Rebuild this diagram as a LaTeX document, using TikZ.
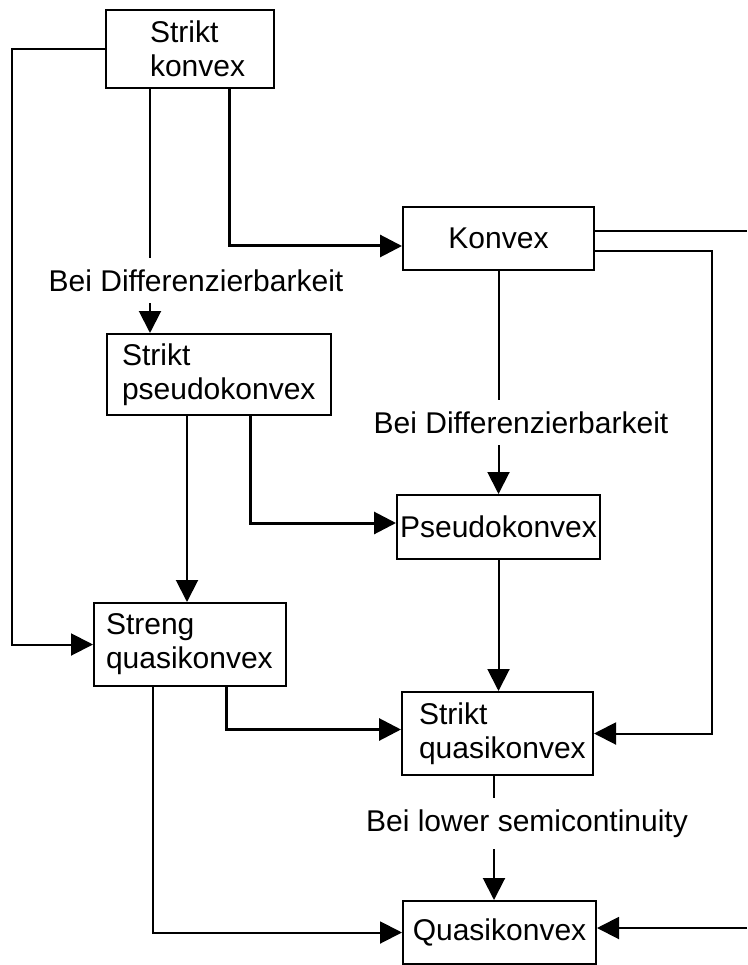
\documentclass[tikz,border=0pt]{standalone}
\usepackage{fontspec}
\setmainfont{Liberation Sans}
\usetikzlibrary{arrows.meta}
\begin{document}
\begin{tikzpicture}[x=1pt,y=-1pt,
  box/.style={draw=black, line width=2pt, inner ysep=0pt, font=\fontsize{30}{34}\selectfont},
  cond/.style={inner sep=0pt, font=\fontsize{30}{34}\selectfont},
  link/.style={line width=2pt},
  strong/.style={line width=3pt},
  tip/.style={-{Triangle[length=22pt,width=22pt]}},
]
\useasboundingbox (0,0) rectangle (747,965);

% property boxes
\node[box, minimum height=78pt, inner xsep=44pt, text width=80pt, align=left] (sk) at (190,49) {Strikt\\konvex};
\node[box, minimum width=191pt, minimum height=63pt] (kv) at (498.5,238.5) {Konvex};
\node[box, minimum height=81pt, inner xsep=15pt, text width=194pt, align=left] (sp) at (219,374.5) {Strikt\\pseudokonvex};
\node[box, minimum width=203pt, minimum height=64pt, inner xsep=0pt] (ps) at (498.5,527) {Pseudokonvex};
\node[box, minimum height=83pt, inner xsep=12pt, text width=168pt, align=left] (sq) at (190,644.5) {Streng\\quasikonvex};
\node[box, minimum height=83pt, inner xsep=17pt, text width=157pt, align=left] (stq) at (497.5,733.5) {Strikt\\quasikonvex};
\node[box, minimum width=193pt, minimum height=63pt] (qk) at (499.5,932.5) {Quasikonvex};

% conditions
\node[cond, minimum height=45pt] (l1) at (196,280.5) {Bei Differenzierbarkeit};
\node[cond, minimum height=45pt] (l2) at (521,422.5) {Bei Differenzierbarkeit};
\node[cond, minimum height=51pt] (l3) at (527,823.5) {Bei lower semicontinuity};

% free ends at the right margin
\coordinate (e1) at (747,231);
\coordinate (e2) at (747,928);

% implications
\draw[link, tip] (sk.west) -- ++(-93,0) |- (sq.west);
\draw[link] ([xshift=-40pt]sk.south) -- ([xshift=-40pt]sk.south |- l1.north);
\draw[link, tip] ([xshift=-40pt]sk.south |- l1.south) -- ([xshift=-40pt]sk.south |- sp.north);
\draw[strong, tip] ([xshift=39pt]sk.south) |- ([yshift=-7.5pt]kv.west);

\draw[link] ([yshift=7.5pt]kv.east) -- (e1);
\draw[link, tip] ([yshift=-12.5pt]kv.east) -- ++(117,0) |- (stq.east);
\draw[link] (kv.south) -- (kv.south |- l2.north);
\draw[link, tip] (kv.south |- l2.south) -- (kv.south |- ps.north);

\draw[link, tip] ([xshift=-32pt]sp.south) -- ([xshift=-32pt]sp.south |- sq.north);
\draw[strong, tip] ([xshift=31pt]sp.south) |- ([yshift=4pt]ps.west);

\draw[link, tip] (ps.south) -- (ps.south |- stq.north);

\draw[strong, tip] ([xshift=36pt]sq.south) |- ([yshift=4pt]stq.west);
\draw[link, tip] ([xshift=-37pt]sq.south) |- (qk.west);

\draw[link] ([xshift=-3.5pt]stq.south) -- ([xshift=-3.5pt]stq.south |- l3.north);
\draw[link, tip] ([xshift=-3.5pt]stq.south |- l3.south) -- ([xshift=-3.5pt]stq.south |- qk.north);

\draw[link, tip] (e2) -- ([yshift=4.5pt]qk.east);
\end{tikzpicture}
\end{document}
